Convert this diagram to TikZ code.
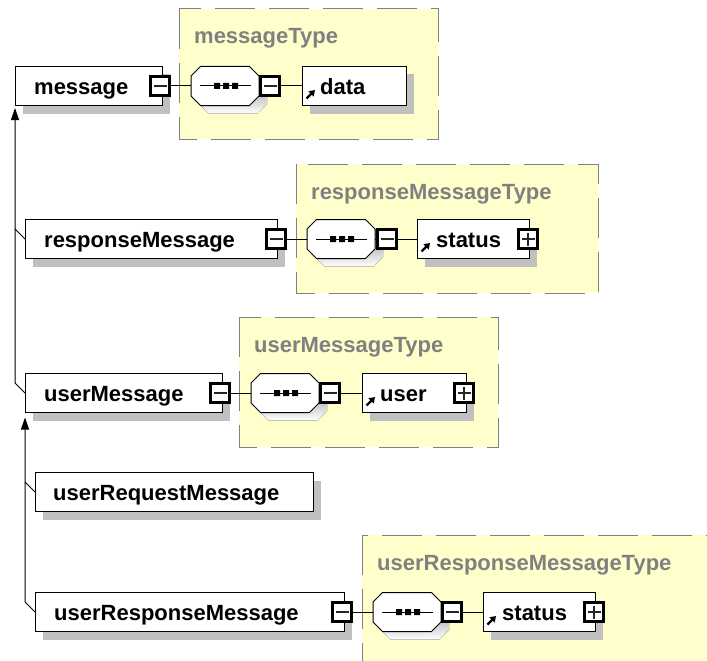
\documentclass[tikz,border=0pt]{standalone}
\usepackage{fontspec}
\setmainfont{Liberation Sans}
\usetikzlibrary{arrows.meta,shadows}

\definecolor{typefill}{RGB}{255,255,204}
\definecolor{typeline}{RGB}{128,128,128}
\definecolor{typetext}{RGB}{128,128,128}
\definecolor{shade}{RGB}{192,192,192}

\tikzset{
  lbl/.style={font=\fontsize{22}{26}\selectfont\bfseries, inner sep=0, anchor=base west},
  typelbl/.style={lbl, text=typetext},
  typebox/.style={draw=typeline, fill=typefill, line width=1pt, dash pattern=on 40pt off 14pt},
  elembox/.style={draw=black, line width=1pt, fill=white, inner sep=0, outer sep=0,
    minimum height=39pt, anchor=west,
    general shadow={fill=shade, shadow xshift=8pt, shadow yshift=-8pt}},
  toggle/.style={draw=black, line width=3.4pt, fill=white, inner sep=0, minimum size=18.6pt},
  minus/.style={toggle, path picture={
    \draw[line width=1.4pt, black!85]
      ([xshift=-6.5pt]path picture bounding box.center) -- ([xshift=6.5pt]path picture bounding box.center);}},
  plus/.style={toggle, path picture={
    \draw[line width=1.4pt, black!85]
      ([xshift=-6.5pt]path picture bounding box.center) -- ([xshift=6.5pt]path picture bounding box.center)
      ([yshift=-6.5pt]path picture bounding box.center) -- ([yshift=6.5pt]path picture bounding box.center);}},
  wire/.style={draw=black, line width=1pt},
  inherit/.style={draw=black, line width=1pt, -{Triangle[length=12pt,width=8pt]}},
  refmark/.style={draw=black, line width=2.2pt, -{Triangle[length=5.5pt,width=7pt]}},
  % sequence compositor: octagon with shadow, a line and three dots
  seq/.pic={
    \fill[shade, shift={(8,8)}] (-34,-10) -- (-24.5,-19.5) -- (24.5,-19.5) -- (34,-10)
      -- (34,10) -- (24.5,19.5) -- (-24.5,19.5) -- (-34,10) -- cycle;
    \draw[black, line width=1pt, fill=white] (-34,-10) -- (-24.5,-19.5) -- (24.5,-19.5) -- (34,-10)
      -- (34,10) -- (24.5,19.5) -- (-24.5,19.5) -- (-34,10) -- cycle;
    \draw[black, line width=1pt] (-25,0) -- (26,0);
    \fill[black] (-11,-3) rectangle ++(6,6) (-2,-3) rectangle ++(6,6) (7,-3) rectangle ++(6,6);
    \node[inner sep=0, outer sep=0, minimum width=68pt, minimum height=39pt] (-b) at (0,0) {};
  }
}

\begin{document}
\begin{tikzpicture}[x=1pt, y=-1pt]
\useasboundingbox (0,0) rectangle (707,661);
\clip (0,0) rectangle (707,661);

% complex type frames
\draw[typebox] (179,9) rectangle (438,139);
\draw[typebox] (296,164) rectangle (598,293);
\draw[typebox] (239,317) rectangle (498,447);
\draw[typebox] (362,535) rectangle (740,700);
\node[typelbl] (t1) at (194,44) {messageType};
\node[typelbl] (t2) at (311,199) {responseMessageType};
\node[typelbl] (t3) at (254,352) {userMessageType};
\node[typelbl] (t4) at (377,570) {userResponseMessageType};

% ---- message
\node[elembox, minimum width=147pt] (msg) at (15,86) {};
\node[lbl] (msg-t) at ([xshift=19pt,yshift=-8pt]msg.west) {message};
\node[minus] (msg-m) at (160,86) {};
\pic (msg-s) at (225,86) {seq};
\node[minus] (msg-m2) at (270,86) {};
\node[elembox, minimum width=104pt] (data) at (302,86) {};
\draw[refmark] ([shift={(4.5,12.5)}]data.west) -- ([shift={(13,4)}]data.west);
\node[lbl] (data-t) at ([xshift=18pt,yshift=-8pt]data.west) {data};
\draw[wire] (msg-m.east) -- (msg-s-b.west);
\draw[wire] (msg-s-b.east) -- (msg-m2.west);
\draw[wire] (msg-m2.east) -- (data.west);

% ---- responseMessage
\node[elembox, minimum width=252pt] (rm) at (25,239) {};
\node[lbl] (rm-t) at ([xshift=19pt,yshift=-8pt]rm.west) {responseMessage};
\node[minus] (rm-m) at (276,239) {};
\pic (rm-s) at (341,239) {seq};
\node[minus] (rm-m2) at (387,239) {};
\node[elembox, minimum width=112pt] (rst) at (417,239) {};
\draw[refmark] ([shift={(4.5,12.5)}]rst.west) -- ([shift={(13,4)}]rst.west);
\node[lbl] (rst-t) at ([xshift=19pt,yshift=-8pt]rst.west) {status};
\node[plus] (rst-p) at (528,239) {};
\draw[wire] (rm-m.east) -- (rm-s-b.west);
\draw[wire] (rm-s-b.east) -- (rm-m2.west);
\draw[wire] (rm-m2.east) -- (rst.west);

% ---- userMessage
\node[elembox, minimum width=197pt] (um) at (25,393) {};
\node[lbl] (um-t) at ([xshift=19pt,yshift=-8pt]um.west) {userMessage};
\node[minus] (um-m) at (220,393) {};
\pic (um-s) at (285,393) {seq};
\node[minus] (um-m2) at (330,393) {};
\node[elembox, minimum width=104pt] (usr) at (362,393) {};
\draw[refmark] ([shift={(4.5,12.5)}]usr.west) -- ([shift={(13,4)}]usr.west);
\node[lbl] (usr-t) at ([xshift=18pt,yshift=-8pt]usr.west) {user};
\node[plus] (usr-p) at (464,393) {};
\draw[wire] (um-m.east) -- (um-s-b.west);
\draw[wire] (um-s-b.east) -- (um-m2.west);
\draw[wire] (um-m2.east) -- (usr.west);

% ---- userRequestMessage
\node[elembox, minimum width=278pt] (urq) at (35,492) {};
\node[lbl] (urq-t) at ([xshift=18pt,yshift=-8pt]urq.west) {userRequestMessage};

% ---- userResponseMessage
\node[elembox, minimum width=309pt] (urs) at (35,612) {};
\node[lbl] (urs-t) at ([xshift=19pt,yshift=-8pt]urs.west) {userResponseMessage};
\node[minus] (urs-m) at (342,612) {};
\pic (urs-s) at (407,612) {seq};
\node[minus] (urs-m2) at (452,612) {};
\node[elembox, minimum width=112pt] (ust) at (483,612) {};
\draw[refmark] ([shift={(4.5,12.5)}]ust.west) -- ([shift={(13,4)}]ust.west);
\node[lbl] (ust-t) at ([xshift=19pt,yshift=-8pt]ust.west) {status};
\node[plus] (ust-p) at (594,612) {};
\draw[wire] (urs-m.east) -- (urs-s-b.west);
\draw[wire] (urs-s-b.east) -- (urs-m2.west);
\draw[wire] (urs-m2.east) -- (ust.west);

% derivation arrows
\coordinate (tipA) at ([yshift=-2.5pt]msg.south west);
\coordinate (tipB) at ([yshift=-5pt]um.south west);
\draw[inherit] (um.west) -- ++(-10,-10) -- (tipA);
\draw[wire] (rm.west) -- ++(-10,-10);
\draw[inherit] (urs.west) -- ++(-10,-10) -- (tipB);
\draw[wire] (urq.west) -- ++(-10,-10);
\end{tikzpicture}
\end{document}
